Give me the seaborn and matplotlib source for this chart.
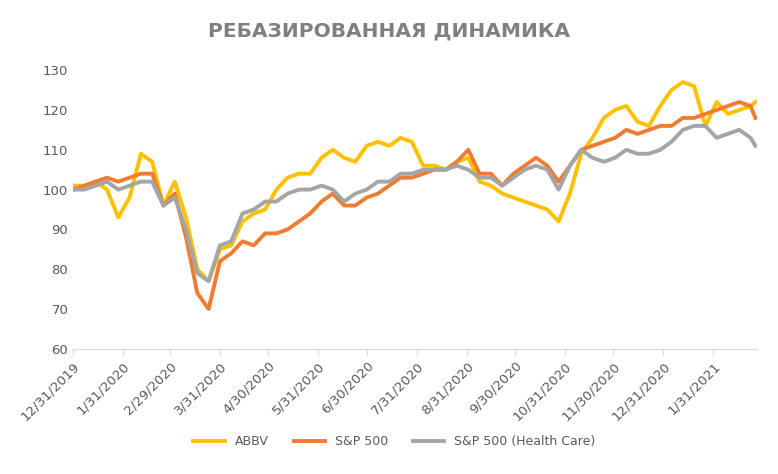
import matplotlib
matplotlib.use("Agg")
import matplotlib.pyplot as plt
import pandas as pd
import seaborn as sns

# weekly readings
dates = list(pd.date_range("2019-12-31", periods=61, freq="7D")) + [pd.Timestamp("2021-02-26")]
abbv = [101, 101, 102, 100, 93, 98, 109, 107, 96, 102, 93, 80, 77, 85, 86, 92, 94, 95, 100, 103,
        104, 104, 108, 110, 108, 107, 111, 112, 111, 113, 112, 106, 106, 105, 107, 108, 102, 101,
        99, 98, 97, 96, 95, 92, 99, 109, 113, 118, 120, 121, 117, 116, 121, 125, 127, 126, 116,
        122, 119, 120, 121, 122]
sp500 = [100, 101, 102, 103, 102, 103, 104, 104, 96, 99, 88, 74, 70, 82, 84, 87, 86, 89, 89, 90,
         92, 94, 97, 99, 96, 96, 98, 99, 101, 103, 103, 104, 105, 105, 107, 110, 104, 104, 101,
         104, 106, 108, 106, 102, 106, 110, 111, 112, 113, 115, 114, 115, 116, 116, 118, 118, 119,
         120, 121, 122, 121, 118]
health = [100, 100, 101, 102, 100, 101, 102, 102, 96, 98, 90, 79, 77, 86, 87, 94, 95, 97, 97, 99,
          100, 100, 101, 100, 97, 99, 100, 102, 102, 104, 104, 105, 105, 105, 106, 105, 103, 103,
          101, 103, 105, 106, 105, 100, 106, 110, 108, 107, 108, 110, 109, 109, 110, 112, 115, 116,
          116, 113, 114, 115, 113, 111]

df = pd.DataFrame({"date": dates, "ABBV": abbv, "S&P 500": sp500, "S&P 500 (Health Care)": health})
long = df.melt("date", var_name="series", value_name="value")

fig = plt.figure(figsize=(7.78, 4.74), dpi=100)
ax = fig.add_axes([0.094, 0.264, 0.879, 0.588])
sns.lineplot(data=long, x="date", y="value", hue="series", ax=ax, linewidth=2.8,
             palette=["#FFC000", "#ED7D31", "#A5A5A5"])

ax.set_ylim(60, 130)
ax.set_yticks(range(60, 131, 10))
ax.set_xlim(pd.Timestamp("2019-12-31"), pd.Timestamp("2021-02-27"))
ticks = pd.to_datetime(["2019-12-31", "2020-01-31", "2020-02-29", "2020-03-31", "2020-04-30",
                        "2020-05-31", "2020-06-30", "2020-07-31", "2020-08-31", "2020-09-30",
                        "2020-10-31", "2020-11-30", "2020-12-31", "2021-01-31"])
ax.set_xticks(ticks)
ax.set_xticklabels([f"{d.month}/{d.day}/{d.year}" for d in ticks], rotation=45, ha="right",
                   rotation_mode="anchor")
ax.tick_params(colors="#595959", labelsize=9.5, length=0)
ax.tick_params(axis="x", length=4, color="#D9D9D9")
ax.set_xlabel("")
ax.set_ylabel("")
for s in ["top", "right", "left"]:
    ax.spines[s].set_visible(False)
ax.spines["bottom"].set_color("#D9D9D9")

ax.legend(loc="upper center", bbox_to_anchor=(0.47, -0.27), ncol=3, frameon=False,
          fontsize=9, handlelength=2.5, labelcolor="#595959")
fig.text(0.5, 0.935, "РЕБАЗИРОВАННАЯ ДИНАМИКА", ha="center", va="center",
         fontsize=14.5, fontweight="bold", color="#7F7F7F")
fig.savefig("out.png", dpi=100)
